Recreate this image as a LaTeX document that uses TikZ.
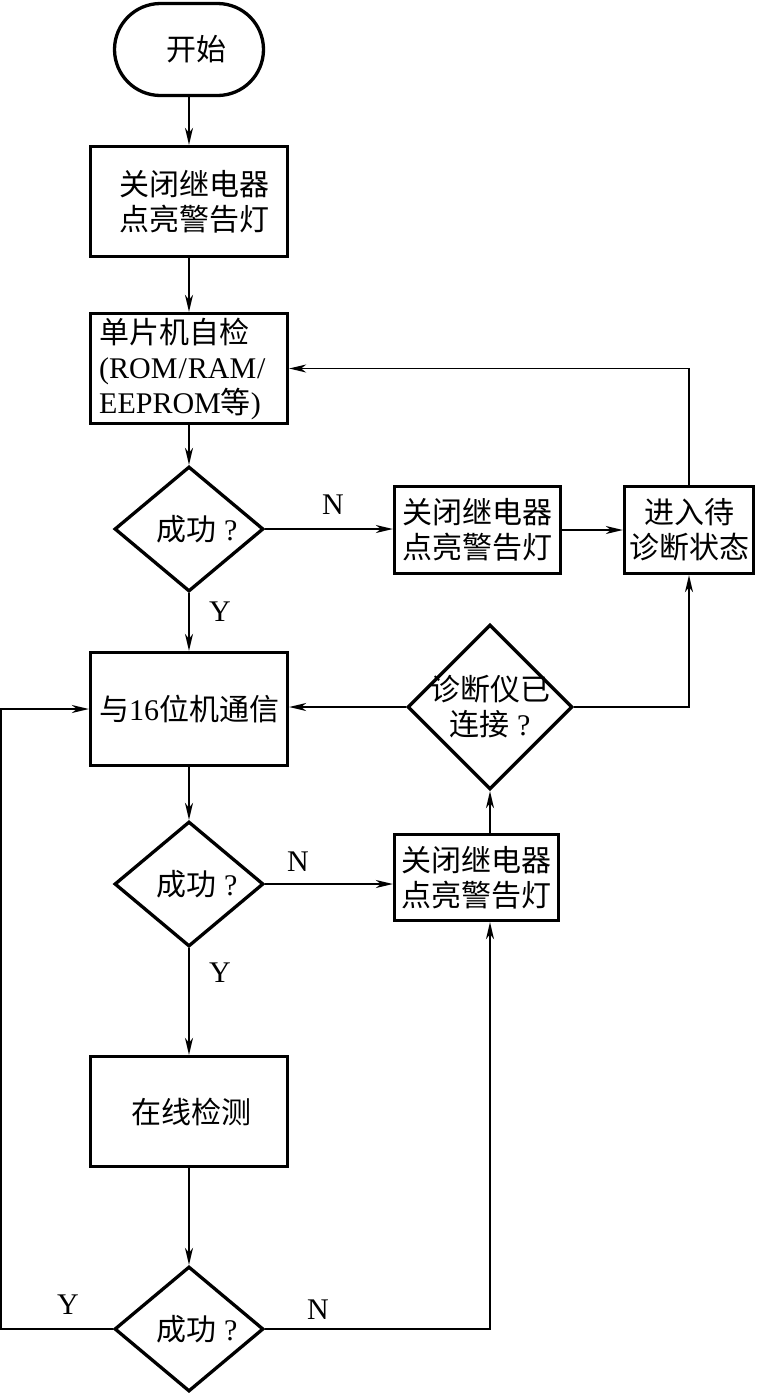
\documentclass[tikz,border=0pt]{standalone}
\usepackage{fontspec}
\setmainfont{Liberation Serif}
\newfontfamily\cjk{Noto Sans CJK SC}
\usetikzlibrary{shapes.geometric,arrows.meta}
\newcommand{\zh}[1]{{\cjk #1}}
\begin{document}
\begin{tikzpicture}[x=1pt,y=-1pt,
  every node/.style={font=\fontsize{30}{35}\selectfont},
  box/.style={draw,line width=3.3pt,inner sep=0pt,align=center},
  dia/.style={draw,diamond,line width=3.3pt,inner sep=0pt},
  txt/.style={inner sep=0pt,align=center},
  lab/.style={inner sep=0pt},
  arr/.style={line width=1.5pt,-{Stealth[length=17pt,width=8pt,inset=5pt]}},
  ln/.style={line width=1.5pt}]
\useasboundingbox (0,0) rectangle (757,1393);
% nodes
\node[draw,line width=3.3pt,rounded corners=46pt,minimum width=149pt,minimum height=92pt,inner sep=0pt] (start) at (189,49.5) {};
\node[txt] (starttxt) at (196,49.5) {\zh{开始}};
\node[box,minimum width=197pt,minimum height=110pt] (b1) at (189,201.5) {};
\node[txt] (b1txt) at (194,201.5) {\zh{关闭继电器}\\\zh{点亮警告灯}};
\node[box,minimum width=197pt,minimum height=110pt] (b2) at (189,368.5) {};
\node[txt,anchor=west,align=left] (b2txt) at (99,369) {\zh{单片机自检}\\(ROM\kern1pt/\kern1ptRAM\kern1pt/\\EEPROM\zh{等})};
\node[dia,minimum width=149pt,minimum height=125pt] (d1) at (189,529) {};
\node[txt] (d1txt) at (197,529) {\zh{成功} ?};
\node[box,minimum width=166pt,minimum height=87pt] (b3) at (477.5,530) {\zh{关闭继电器}\\\zh{点亮警告灯}};
\node[box,minimum width=129pt,minimum height=87pt] (b4) at (689,530) {\zh{进入待}\\\zh{诊断状态}};
\node[box,minimum width=197pt,minimum height=113pt] (b5) at (189,709) {};
\node[txt] (b5txt) at (189,709) {\zh{与}16\zh{位机通信}};
\node[dia,minimum width=165pt,minimum height=165pt] (d2) at (490,707) {};
\node[txt] (d2txt) at (490,707) {\zh{诊断仪已}\\\zh{连接} ?};
\node[box,minimum width=164pt,minimum height=86pt] (b6) at (476.5,877.5) {\zh{关闭继电器}\\\zh{点亮警告灯}};
\node[dia,minimum width=149pt,minimum height=125pt] (d3) at (189,884) {};
\node[txt] (d3txt) at (197,884) {\zh{成功} ?};
\node[box,minimum width=197pt,minimum height=110pt] (b7) at (189,1111.5) {};
\node[txt] (b7txt) at (191,1111.5) {\zh{在线检测}};
\node[dia,minimum width=149pt,minimum height=125pt] (d4) at (189,1329) {};
\node[txt] (d4txt) at (197,1329) {\zh{成功} ?};
% labels
\node[lab] (n1) at (333,505) {N};
\node[lab] (y1) at (220,612) {Y};
\node[lab] (n2) at (298,862) {N};
\node[lab] (y2) at (220,973) {Y};
\node[lab] (y3) at (68,1305) {Y};
\node[lab] (n3) at (318,1310) {N};
\coordinate (lft) at (1,709);
% connectors
\draw[arr] (start) -- (b1);
\draw[arr] (b1) -- (b2);
\draw[arr] (b2) -- (d1);
\draw[arr] (d1.east) -- (d1.east -| b3.west);
\draw[arr] (b3) -- (b4);
\draw[arr] (b4.north) |- (b2.east);
\draw[arr] (d1) -- (b5);
\draw[arr] (d2.west) -- (d2.west -| b5.east);
\draw[arr] (d2.east) -| (b4.south);
\draw[arr] (b6.north -| d2.south) -- (d2.south);
\draw[arr] (b5) -- (d3);
\draw[arr] (d3.east) -- (d3.east -| b6.west);
\draw[arr] (d3) -- (b7);
\draw[arr] (b7) -- (d4);
\draw[arr] (d4.west) -| (lft) -- (b5.west);
\draw[arr] (d4.east) -| (b6.south -| d2.south);
\end{tikzpicture}
\end{document}
